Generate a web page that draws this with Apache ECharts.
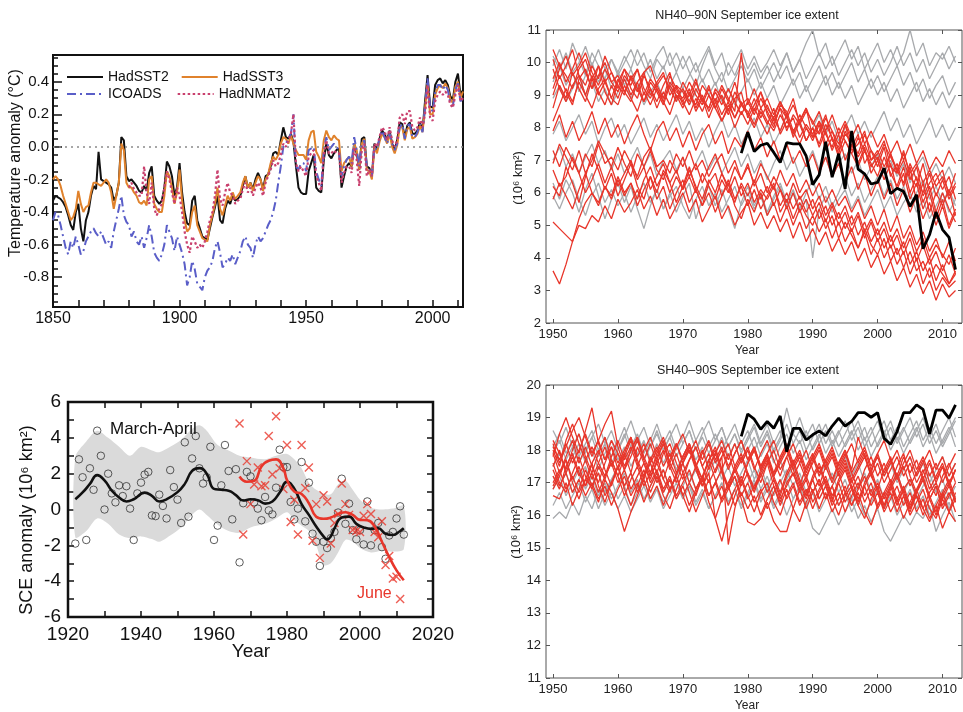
<!DOCTYPE html>
<html>
<head>
<meta charset="utf-8">
<title>SST anomalies, snow cover and September sea ice</title>
<script src="https://cdn.jsdelivr.net/npm/echarts@6/dist/echarts.min.js"></script>
<style>
  html, body { margin: 0; padding: 0; background: #fff; }
  #main { width: 963px; height: 712px; }
</style>
</head>
<body>
<div id="main"></div>
<script>
const FONT = '"Liberation Sans", Arial, Helvetica, sans-serif';

// ---- panel a : sea surface / marine air temperature anomalies (one value per year)
const sstStart = 1850;
const hadSST2 = [
  -0.33,-0.30,-0.31,-0.32,-0.34,-0.37,-0.42,-0.48,-0.51,-0.40,
  -0.35,-0.50,-0.58,-0.45,-0.40,-0.30,-0.24,-0.26,-0.03,-0.20,
  -0.21,-0.22,-0.23,-0.25,-0.33,-0.30,-0.22,0.06,0.04,-0.18,
  -0.21,-0.20,-0.22,-0.24,-0.27,-0.28,-0.24,-0.27,-0.16,-0.12,
  -0.30,-0.33,-0.35,-0.33,-0.25,-0.09,-0.12,-0.18,-0.30,-0.25,
  -0.10,-0.28,-0.40,-0.47,-0.48,-0.33,-0.30,-0.45,-0.50,-0.55,
  -0.56,-0.57,-0.50,-0.43,-0.37,-0.30,-0.45,-0.47,-0.38,-0.33,
  -0.35,-0.30,-0.33,-0.32,-0.30,-0.24,-0.18,-0.25,-0.22,-0.26,
  -0.20,-0.16,-0.20,-0.26,-0.18,-0.17,-0.12,-0.04,-0.03,-0.05,
  0.04,0.12,0.06,0.05,0.08,0.03,-0.12,-0.25,-0.28,-0.29,
  -0.29,-0.15,-0.10,-0.05,-0.25,-0.27,-0.28,-0.08,0.02,-0.05,
  -0.07,-0.04,-0.02,-0.01,-0.25,-0.18,-0.12,-0.10,-0.12,0.02,
  -0.04,-0.14,0.05,0.06,-0.12,-0.13,-0.18,0.02,-0.02,0.05,
  0.10,0.08,0.04,0.10,0.02,-0.02,0.04,0.15,0.14,0.06,
  0.13,0.15,0.08,0.08,0.10,0.15,0.10,0.28,0.44,0.25,
  0.24,0.38,0.41,0.42,0.39,0.41,0.38,0.31,0.29,0.40,
  0.45,0.32,0.35
];
const hadSST3 = [
  -0.20,-0.18,-0.20,-0.24,-0.30,-0.35,-0.40,-0.45,-0.43,-0.38,
  -0.27,-0.35,-0.40,-0.37,-0.36,-0.28,-0.22,-0.22,-0.23,-0.24,
  -0.22,-0.20,-0.22,-0.28,-0.38,-0.30,-0.22,0.02,-0.02,-0.22,
  -0.25,-0.25,-0.28,-0.30,-0.34,-0.35,-0.33,-0.36,-0.20,-0.18,
  -0.35,-0.38,-0.40,-0.40,-0.30,-0.15,-0.18,-0.25,-0.35,-0.28,
  -0.14,-0.33,-0.45,-0.52,-0.50,-0.40,-0.36,-0.48,-0.52,-0.56,
  -0.57,-0.58,-0.48,-0.42,-0.35,-0.25,-0.38,-0.42,-0.36,-0.30,
  -0.33,-0.28,-0.32,-0.30,-0.28,-0.22,-0.18,-0.25,-0.22,-0.27,
  -0.22,-0.18,-0.20,-0.27,-0.20,-0.17,-0.10,-0.06,-0.08,-0.05,
  0.02,0.06,0.05,0.02,0.07,0.02,-0.02,-0.05,-0.05,-0.05,
  -0.08,0.04,0.09,0.10,-0.03,-0.06,-0.10,0.04,0.10,0.06,
  0.04,0.07,0.05,0.04,-0.15,-0.10,-0.08,-0.06,-0.12,0.02,
  -0.02,-0.14,0.02,0.05,-0.14,-0.15,-0.20,0.00,-0.04,0.03,
  0.08,0.06,0.02,0.08,0.00,-0.04,0.01,0.12,0.12,0.04,
  0.11,0.12,0.05,0.06,0.08,0.13,0.09,0.24,0.39,0.20,
  0.20,0.32,0.36,0.38,0.36,0.39,0.36,0.29,0.27,0.37,
  0.40,0.30,0.34
];
const icoads = [
  -0.45,-0.40,-0.42,-0.48,-0.55,-0.62,-0.66,-0.58,-0.62,-0.55,
  -0.60,-0.66,-0.64,-0.58,-0.55,-0.52,-0.50,-0.53,-0.55,-0.52,
  -0.56,-0.60,-0.58,-0.62,-0.52,-0.45,-0.38,-0.30,-0.42,-0.46,
  -0.48,-0.55,-0.52,-0.58,-0.60,-0.55,-0.62,-0.56,-0.48,-0.55,
  -0.65,-0.68,-0.70,-0.66,-0.60,-0.48,-0.52,-0.56,-0.64,-0.55,
  -0.60,-0.65,-0.72,-0.85,-0.80,-0.70,-0.75,-0.84,-0.86,-0.88,
  -0.80,-0.76,-0.74,-0.70,-0.62,-0.58,-0.65,-0.74,-0.72,-0.68,
  -0.70,-0.66,-0.72,-0.68,-0.64,-0.58,-0.55,-0.60,-0.62,-0.68,
  -0.60,-0.55,-0.58,-0.56,-0.52,-0.48,-0.45,-0.40,-0.33,-0.22,
  -0.12,0.00,0.02,0.05,0.08,0.20,-0.12,-0.14,-0.10,-0.10,
  -0.15,-0.02,-0.01,0.00,-0.15,-0.20,-0.24,-0.02,0.06,-0.02,
  0.00,0.02,0.00,-0.02,-0.18,-0.12,-0.08,-0.06,-0.10,0.06,
  -0.02,-0.12,0.02,0.04,-0.12,-0.14,-0.18,0.00,-0.02,0.05,
  0.10,0.06,0.02,0.08,0.02,-0.02,0.02,0.12,0.14,0.05,
  0.13,0.14,0.06,0.06,0.09,0.14,0.09,0.24,0.42,0.24,
  0.22,0.33,0.38,0.38,0.35,0.38,0.35,0.27,0.25,0.35,
  0.39,0.28,0.30
];
const nmatStart = 1880;
const hadNMAT2 = [
  -0.25,-0.22,-0.26,-0.28,-0.30,-0.30,-0.12,-0.28,-0.35,-0.22,
  -0.38,-0.42,-0.38,-0.35,-0.25,-0.15,-0.20,-0.28,-0.35,-0.25,
  -0.30,-0.40,-0.52,-0.60,-0.65,-0.55,-0.58,-0.62,-0.60,-0.62,
  -0.58,-0.52,-0.45,-0.40,-0.30,-0.14,-0.32,-0.36,-0.28,-0.22,
  -0.28,-0.30,-0.35,-0.33,-0.32,-0.26,-0.22,-0.28,-0.25,-0.30,
  -0.25,-0.22,-0.25,-0.30,-0.22,-0.18,-0.14,-0.08,-0.12,-0.10,
  -0.05,0.02,0.00,0.04,0.08,0.20,-0.10,-0.15,-0.12,-0.15,
  -0.18,-0.06,-0.04,-0.02,-0.18,-0.22,-0.27,-0.05,0.04,-0.04,
  -0.04,-0.02,-0.04,-0.04,-0.22,-0.16,-0.12,-0.12,-0.16,0.00,
  -0.08,-0.24,-0.02,0.02,-0.18,-0.14,-0.18,0.02,0.00,0.06,
  0.12,0.10,0.04,0.12,0.04,0.00,0.04,0.18,0.20,0.14,
  0.22,0.22,0.12,0.10,0.12,0.18,0.12,0.20,0.38,0.18,
  0.16,0.28,0.32,0.34,0.32,0.34,0.32,0.26,0.24,0.32,
  0.38,0.28,0.30
];
const sstYLabels = [-0.8, -0.6, -0.4, -0.2, 0, 0.2, 0.4];

// ---- panel b : NH spring snow cover extent anomaly
const maStart = 1922;
const marchApril = [
  -1.9,2.8,1.8,-1.7,2.3,1.1,4.4,3.0,0.0,2.0,
  0.9,0.4,1.35,0.75,1.3,0.05,-1.7,0.9,1.5,1.95,
  2.1,-0.33,-0.37,0.83,0.2,-0.5,2.2,1.25,0.55,-0.75,
  3.75,-0.4,2.85,4.1,2.3,1.45,1.8,3.5,-1.7,-0.9,
  1.35,3.6,2.15,-0.55,2.25,
  -2.95,0.35,2.1,1.85,0.4,0.05,-0.6,0.7,-0.05,-0.27,
  1.22,3.34,2.37,2.37,0.42,-0.55,0.05,2.65,-0.66,1.5,
  -1.35,-1.8,-3.15,-1.8,-2.15,-1.6,-1.25,-0.17,1.72,-0.8,
  0.33,-1.15,-1.66,-1.15,-1.95,0.45,-2.0,-1.15,-0.75,-2.1,
  -2.75,-1.45,-1.25,-0.5,0.18,-1.4
];
const juneStart = 1967;
const june = [
  4.8,-1.4,2.7,0.3,1.4,2.35,1.3,1.35,4.1,1.95,
  5.2,2.3,1.15,3.6,-0.7,0.55,-1.4,3.6,1.2,2.35,
  -1.75,0.3,-2.7,0.8,0.45,-1.9,-0.75,-0.25,1.45,0.3,
  -0.3,-1.15,-1.2,-1.25,-0.35,0.3,-0.25,-1.25,-1.55,-0.65,
  -3.1,-2.6,-3.85,-3.75,-5.0
];
const maSmoothYears = [1922,1924,1926,1928,1930,1932,1934,1936,1938,1941,1943,1945,1947,1950,1952,1954,
  1956,1958,1960,1962,1964,1966,1968,1970,1972,1974,1976,1978,1980,1982,1984,1986,1988,1990,1991,
  1992,1993,1995,1997,1999,2001,2003,2005,2007,2009,2011,2012];
const maSmooth = [0.57,0.95,1.43,1.92,1.62,1.05,0.67,0.45,0.57,0.94,0.76,0.45,0.57,0.97,1.43,2.15,
  2.31,2.0,1.15,1.1,1.05,0.8,0.5,0.57,0.52,0.33,0.45,0.95,1.54,1.16,0.3,-0.3,-0.95,-1.5,-1.67,
  -1.5,-1.05,-0.45,-0.4,-0.8,-1.0,-1.08,-1.05,-1.35,-1.42,-1.2,-1.05];
const juneSmoothYears = [1967,1969,1971,1973,1975,1977,1979,1980,1982,1984,1986,1988,1990,1992,1994,
  1996,1998,2000,2002,2004,2006,2008,2010,2012];
const juneSmooth = [1.84,1.55,1.6,2.4,2.72,2.8,2.3,1.65,1.0,0.87,0.35,-0.4,-0.52,-0.45,-0.25,
  -0.15,-0.3,-0.58,-0.6,-0.95,-1.8,-2.65,-3.4,-3.95];
const bandYears = [1922,1925,1928,1931,1934,1937,1940,1943,1945,1948,1951,1954,1956,1958,1961,1964,
  1967,1970,1974,1977,1980,1982,1984,1986,1988,1990,1992,1994,1996,1998,2000,2003,2006,2009,2012];
const bandLow = [-1.55,-1.2,-0.5,-0.8,-1.4,-1.6,-1.5,-1.65,-1.8,-1.45,-1.0,-0.3,0.0,-0.3,-0.85,-1.2,
  -1.3,-1.0,-0.8,-0.5,-0.15,-0.6,-0.9,-1.2,-2.0,-3.1,-3.0,-2.4,-1.7,-1.8,-2.15,-2.4,-2.3,-2.35,-2.2];
const bandHigh = [2.9,3.8,4.4,4.0,3.5,3.0,3.5,3.3,3.2,3.5,3.9,4.5,4.7,4.4,3.6,3.3,
  3.0,2.9,2.8,3.0,3.1,2.8,2.3,1.5,1.1,0.9,0.85,1.4,1.6,1.1,0.55,0.1,0.0,0.05,0.2];

// ---- panels c, d : September sea ice extent, models (1950-2012) and observations (1979-2012)
const iceStart = 1950;
const obsStart = 1979;
const iceYearTicks = [1950, 1960, 1970, 1980, 1990, 2000, 2010];
const nhObs = [7.22,7.86,7.27,7.46,7.52,7.24,6.93,7.54,7.50,7.50,7.13,6.25,6.55,7.57,6.48,7.20,6.12,
  7.90,6.73,6.58,6.27,6.32,6.76,5.97,6.14,6.04,5.58,5.94,4.28,4.71,5.41,4.87,4.63,3.64];
const shObs = [18.42,19.11,18.95,18.64,18.88,18.67,19.05,17.95,18.67,18.67,18.31,18.47,18.59,18.44,
  18.74,18.98,18.74,18.88,19.15,19.15,19.01,19.15,18.36,18.18,18.57,19.15,19.15,19.39,19.25,18.5,
  19.23,19.23,18.98,19.39];

const nhGray = [
  [10.2,9.8,10.3,9.7,10.0,10.5,9.9,10.4,9.8,10.1,9.6,10.0,10.4,9.9,10.3,9.7,10.2,10.5,9.9,10.3,
   9.8,10.2,9.7,10.1,10.5,9.9,10.3,9.6,10.0,10.4,9.8,10.2,9.7,10.0,10.4,9.9,10.3,9.7,10.1,10.6,
   11.0,10.2,10.6,9.9,10.3,10.7,10.1,10.5,9.8,10.2,10.6,10.0,10.4,9.9,10.3,11.0,10.2,10.6,9.9,10.3,
   10.1,10.5,10.0],
  [9.4,9.9,9.3,9.7,9.1,9.6,10.0,9.4,9.8,9.2,9.7,9.3,9.8,9.2,9.6,10.1,9.5,9.9,9.3,9.7,
   9.2,9.6,10.0,9.4,9.8,9.3,9.7,9.1,9.5,9.9,9.4,9.8,9.2,9.6,10.0,9.5,9.9,9.3,9.7,9.1,
   9.5,9.9,9.3,9.7,9.2,9.6,10.0,9.4,9.8,9.2,9.6,9.1,9.5,9.9,9.3,9.7,9.1,9.5,8.9,9.3,
   9.6,9.0,9.4],
  [8.9,9.3,8.8,9.2,9.6,9.0,9.4,8.8,9.2,8.7,9.1,9.5,8.9,9.3,8.7,9.1,9.4,8.9,9.3,8.8,
   9.2,8.7,9.1,9.5,9.0,9.4,8.8,9.2,8.7,9.1,9.5,9.0,9.4,8.9,9.3,8.7,9.1,9.5,8.9,9.3,
   8.8,9.2,9.6,9.0,9.4,8.9,9.3,8.7,9.1,9.5,9.0,9.4,8.8,9.2,8.6,9.0,9.4,8.8,9.2,8.7,
   9.1,8.6,9.0],
  [7.0,7.4,6.8,7.2,6.6,7.1,7.5,6.9,7.3,6.7,7.2,6.6,7.0,7.4,6.8,7.2,6.5,7.0,7.3,6.7,
   7.1,6.5,6.9,7.3,6.7,7.1,6.6,7.0,7.4,6.8,7.2,6.6,7.0,6.4,6.9,7.3,6.7,7.1,6.5,6.9,
   7.3,6.7,7.1,6.5,6.9,7.2,6.6,7.0,6.4,6.8,7.2,6.6,7.0,6.5,6.9,6.3,6.8,7.1,6.5,6.9,
   6.4,6.8,6.3],
  [5.9,5.5,6.0,6.4,5.8,5.3,5.9,6.3,5.7,6.1,5.6,6.0,5.4,5.9,6.3,5.7,6.1,5.5,5.9,6.2,
   5.6,5.2,5.8,6.2,5.6,6.0,5.4,5.8,6.2,5.6,6.0,5.5,5.9,5.3,5.8,6.2,5.6,6.0,5.4,5.8,
   4.0,5.5,5.9,5.4,5.8,6.1,5.5,5.9,5.3,5.7,6.1,5.5,5.9,5.3,5.7,6.0,5.4,5.8,5.2,5.6,
   6.0,5.4,5.8],
  [7.8,8.2,7.6,8.0,8.4,7.8,8.2,7.5,8.0,8.3,7.7,8.1,7.5,7.9,8.3,7.7,8.1,7.6,8.0,8.4,
   7.8,8.2,7.6,8.0,7.4,7.9,8.3,7.7,8.1,7.5,7.9,8.3,7.7,8.1,7.5,7.9,8.4,7.8,8.2,7.6,
   8.0,8.4,7.8,8.2,7.6,8.0,8.4,7.8,8.2,7.7,8.1,8.5,7.9,8.3,7.7,8.1,7.5,7.9,8.3,7.7,
   8.1,7.6,8.0],
  [6.3,5.8,6.4,6.0,5.4,6.1,6.6,5.9,5.2,5.8,6.3,5.7,6.2,5.5,4.9,5.6,6.1,5.5,6.0,5.4,
   5.9,6.3,5.2,5.8,6.2,5.6,6.1,5.5,4.9,5.7,6.2,5.6,6.0,5.4,5.9,6.3,5.7,6.1,5.5,6.0,
   6.4,5.8,6.2,5.6,6.0,6.5,5.9,6.3,5.7,6.1,6.5,5.9,6.4,5.8,6.2,5.6,6.0,6.4,5.8,6.2,
   5.7,6.1,5.6],
  [9.9,10.4,9.8,10.6,10.1,9.6,10.3,9.9,9.5,10.1,9.7,10.2,9.8,10.4,9.9,9.5,10.1,9.8,10.3,9.7,
   10.2,9.7,9.3,9.9,10.4,9.8,9.4,10.0,9.6,10.1,9.6,10.0,9.5,9.9,9.4,9.8,10.3,9.7,10.1,9.5,
   9.9,10.3,9.8,10.2,9.6,10.0,10.4,9.9,10.3,9.7,10.1,9.6,10.0,10.5,9.9,10.3,9.7,10.1,9.5,9.9,
   10.3,9.8,10.2]
];
const nhRed = [
  [10.4,9.9,9.6,9.2,9.8,10.1,9.5,9.0,9.4,9.7,9.3,9.0,9.6,9.2,8.8,9.4,9.1,8.7,9.3,9.0,
   8.8,9.2,8.6,9.0,8.5,8.9,8.4,8.8,8.3,8.7,8.5,8.1,8.6,8.2,7.9,8.4,8.0,8.3,7.7,8.1,
   7.8,8.2,7.5,7.9,7.3,7.8,7.6,7.1,7.5,7.0,7.3,6.8,7.2,6.6,7.0,6.4,6.8,5.9,6.3,6.6,
   6.1,6.5,5.8],
  [9.2,9.8,10.2,9.6,9.9,10.3,9.7,9.3,9.8,9.4,9.6,9.1,9.5,9.8,9.2,8.9,9.4,9.7,9.0,9.3,
   9.1,8.7,9.2,8.8,9.3,8.6,9.0,8.5,9.1,8.7,8.4,8.9,8.3,8.7,8.2,8.6,7.9,8.4,8.1,7.6,
   8.0,7.5,8.1,7.7,7.2,7.9,7.4,7.8,6.9,7.3,6.8,7.4,6.5,6.9,6.2,6.8,5.7,6.3,5.4,6.0,
   5.6,6.1,5.3],
  [8.6,9.3,8.9,9.7,9.2,8.8,9.5,9.9,9.1,8.7,9.4,9.8,9.2,8.9,9.6,9.2,8.8,9.3,9.7,8.9,
   9.2,8.8,9.4,8.9,8.6,9.1,8.7,9.2,8.8,8.4,8.8,8.4,8.9,8.5,8.1,8.6,8.3,7.8,8.4,8.0,
   7.7,8.2,7.8,7.4,8.0,7.6,7.2,7.7,7.3,6.8,7.1,6.6,7.2,6.7,6.3,6.9,6.4,6.0,6.6,5.9,
   6.4,5.8,6.2],
  [9.8,9.2,8.8,9.3,9.6,9.0,8.6,9.2,9.5,8.9,8.7,9.3,8.9,8.5,9.1,8.7,9.2,8.8,8.4,9.0,
   8.6,9.1,8.5,8.9,8.3,8.8,8.2,8.6,8.0,8.5,8.1,8.6,8.2,7.8,8.3,7.9,8.4,7.7,8.2,7.6,
   8.0,7.4,7.9,7.3,7.8,7.0,7.5,6.9,7.4,6.6,7.0,6.4,6.9,6.1,6.6,5.8,6.3,5.5,6.0,5.2,
   5.8,5.0,5.5],
  [8.2,8.7,9.2,8.8,9.4,9.0,9.6,9.1,8.7,9.3,8.9,9.5,9.0,9.4,8.8,9.2,8.6,9.1,8.7,9.3,
   8.8,8.4,8.9,8.5,9.0,8.6,8.2,8.7,8.3,8.8,8.4,8.0,8.5,8.1,8.6,7.8,8.2,7.9,7.5,8.0,
   7.6,8.1,7.3,7.7,7.1,7.6,7.2,6.8,7.3,6.9,6.5,7.1,6.6,6.2,6.8,6.0,6.5,5.7,6.2,5.4,
   6.0,5.5,5.1],
  [9.5,10.0,9.4,9.8,10.3,9.7,9.2,9.6,10.0,9.4,9.1,9.6,9.3,9.8,9.0,9.5,9.2,8.8,9.4,9.1,
   8.9,9.4,9.0,8.7,9.2,8.8,9.3,8.9,8.5,10.3,8.7,9.2,8.6,8.9,8.4,8.8,8.3,8.7,8.2,8.6,
   8.1,8.5,7.9,8.4,7.8,8.2,7.7,8.1,7.5,7.9,7.4,7.8,7.2,7.6,7.0,7.5,6.9,7.3,6.7,7.1,
   6.8,7.3,6.9],
  [6.7,6.2,6.5,7.1,6.6,6.0,6.4,6.9,6.3,6.8,6.2,6.6,7.0,6.4,6.8,6.1,6.5,6.9,6.3,6.7,
   6.1,6.5,6.0,6.6,6.2,5.8,6.4,6.0,6.5,5.9,6.3,5.7,6.1,5.8,6.2,5.6,6.0,5.5,5.9,5.4,
   5.8,5.2,5.6,5.0,5.4,4.9,5.3,4.7,5.1,4.5,4.9,4.3,4.7,4.1,4.5,3.8,4.2,3.6,4.0,3.3,
   3.8,3.2,3.5],
  [5.8,6.3,5.9,5.5,6.1,6.6,6.0,5.7,6.2,5.8,6.4,5.9,6.3,5.6,6.1,6.5,5.8,6.2,5.5,6.0,
   6.4,5.7,6.1,5.6,6.0,5.4,5.9,6.3,5.6,5.2,5.8,5.4,6.0,5.3,5.7,5.1,5.6,5.0,5.5,4.9,
   5.3,4.8,5.2,4.6,5.1,4.5,4.9,4.3,4.8,4.1,4.6,4.0,4.4,3.8,4.2,3.5,4.0,3.2,3.7,3.0,
   3.4,3.1,3.3],
  [7.3,6.8,7.4,7.0,6.6,7.2,6.8,7.5,6.9,7.1,6.7,7.3,6.9,6.5,7.1,7.4,6.8,7.0,6.6,7.2,
   6.8,7.3,6.7,7.0,6.5,6.9,7.2,6.6,7.0,6.4,6.8,6.3,6.9,6.5,6.1,6.7,6.2,6.6,6.0,6.4,
   5.9,6.3,5.7,6.1,5.6,5.9,5.4,5.8,5.2,5.6,5.0,5.5,4.8,5.3,4.6,5.0,4.4,4.8,4.2,4.6,
   4.0,4.5,3.9],
  [3.6,3.2,3.8,4.5,5.0,4.9,5.3,5.1,5.6,5.2,5.8,5.4,5.7,6.1,5.5,5.9,5.3,5.8,5.2,5.6,
   6.0,5.4,5.8,5.1,5.5,5.9,5.2,5.6,5.0,5.4,5.7,5.0,5.4,4.9,5.3,4.8,5.2,4.6,5.1,4.5,
   4.9,4.4,4.8,4.2,4.6,4.1,4.5,3.9,4.3,3.7,4.1,3.5,3.9,3.3,3.7,3.1,3.5,2.9,3.3,2.7,
   3.2,2.8,3.0],
  [5.1,4.9,4.7,4.5,5.2,5.7,6.0,5.6,6.2,5.9,6.5,6.0,6.3,5.8,6.4,6.8,6.2,6.6,6.0,6.5,
   6.1,6.7,6.2,5.8,6.4,6.0,6.6,6.1,5.7,6.3,5.9,6.4,5.8,6.2,5.6,6.1,5.5,6.0,5.4,5.8,
   5.3,5.7,5.1,5.6,5.0,5.4,4.8,5.3,4.6,5.1,4.5,4.9,4.3,4.7,4.1,4.6,3.9,4.4,3.8,4.2,
   3.6,4.1,3.5],
  [7.9,8.4,7.7,8.2,7.6,8.0,8.5,7.8,8.3,7.7,8.1,7.5,8.0,8.4,7.8,7.3,7.9,8.2,7.6,8.0,
   7.4,7.9,7.3,7.8,8.1,7.5,7.9,7.2,7.7,7.4,7.9,7.3,7.7,7.1,7.6,7.0,7.5,6.9,7.3,6.8,
   7.2,6.6,7.1,6.5,6.9,6.3,6.8,6.1,6.6,5.9,6.4,5.8,6.3,5.6,6.1,5.4,5.9,5.2,5.7,5.0,
   5.6,4.9,5.4],
  [9.0,9.6,9.1,8.7,9.5,9.8,9.2,9.9,9.4,8.9,9.5,9.1,8.8,9.4,9.7,9.0,9.3,8.9,9.6,9.2,
   8.7,9.0,9.5,8.8,8.6,9.2,8.9,8.4,8.9,9.1,8.3,8.7,9.1,8.4,8.0,8.7,8.5,7.9,8.2,8.6,
   7.7,7.9,8.4,7.6,7.4,8.1,7.3,7.5,7.9,7.0,7.2,7.6,6.8,6.6,7.3,6.5,6.2,6.9,6.0,6.4,
   6.7,5.9,6.3],
  [10.1,9.5,9.9,10.4,9.6,9.3,9.9,9.5,10.2,9.7,9.2,9.8,9.5,9.1,9.7,9.9,9.3,9.6,9.2,8.8,
   9.4,9.0,8.7,9.3,9.0,8.6,9.2,8.8,9.4,8.7,8.9,8.5,9.1,8.6,8.3,8.8,8.4,8.9,8.1,8.5,
   8.2,7.8,8.3,7.9,7.5,8.1,7.6,7.2,7.8,7.3,7.0,7.5,7.1,6.7,7.2,6.6,6.9,6.3,6.7,6.2,
   6.5,6.0,6.6],
  [6.2,5.9,6.8,6.3,5.7,6.5,7.2,6.7,6.1,6.6,5.9,6.4,6.9,6.2,5.8,6.5,6.0,6.7,6.3,5.7,
   6.2,6.8,6.1,5.6,6.3,6.6,5.9,6.4,5.8,6.2,5.6,6.1,5.5,5.9,6.3,5.4,5.8,5.2,5.7,5.3,
   5.0,5.5,4.9,5.3,4.6,5.1,4.7,4.3,4.9,4.4,4.1,4.6,3.9,4.3,3.7,4.2,3.6,3.9,3.4,3.8,
   3.5,3.2,3.6],
  [6.9,7.5,7.1,6.7,7.3,6.6,7.0,7.6,7.2,6.8,7.4,6.9,6.5,7.2,6.8,7.3,6.7,6.4,7.0,6.6,
   7.1,6.5,6.9,6.3,6.8,7.2,6.6,6.2,6.8,6.4,6.9,6.2,6.6,6.0,6.5,6.1,5.7,6.3,5.8,6.1,
   5.5,5.9,5.3,5.7,5.2,5.6,5.0,5.4,4.8,5.2,4.7,5.1,4.5,4.9,4.3,4.8,4.2,4.6,4.0,4.4,
   4.1,3.8,4.3]
];

const shGray = [
  [15.9,16.1,15.9,16.4,16.0,16.6,16.2,16.8,16.3,16.7,16.2,16.6,16.1,16.5,16.9,16.4,16.8,16.2,16.6,17.0,
   16.5,16.9,16.3,16.7,16.2,16.6,17.0,16.4,16.8,16.2,16.6,17.0,16.4,16.8,16.2,16.6,16.0,16.5,16.9,16.3,
   15.6,15.4,15.8,16.2,15.7,16.1,16.5,15.9,16.3,15.8,16.2,15.5,15.2,15.6,16.0,15.7,16.1,15.9,16.3,15.5,
   16.0,16.4,15.8],
  [18.1,18.5,17.9,18.3,17.8,18.2,18.6,18.0,18.4,17.8,18.2,18.7,18.1,18.5,17.9,18.3,18.8,18.2,18.6,18.0,
   18.4,18.9,18.3,18.7,18.1,18.5,18.0,18.4,18.8,18.2,18.6,18.0,18.4,18.8,18.2,18.6,18.1,18.5,19.0,18.4,
   18.8,18.2,18.6,18.1,18.5,18.9,18.3,18.7,18.1,18.5,18.9,18.3,18.7,18.2,18.6,19.0,18.4,18.8,18.2,18.6,
   18.1,18.5,18.9],
  [17.5,17.9,17.3,17.8,18.2,17.6,18.0,17.4,17.9,18.3,17.7,18.1,17.5,17.9,18.3,17.7,18.2,17.6,18.0,17.4,
   17.8,18.2,17.7,18.1,17.5,17.9,18.4,17.8,18.2,17.6,18.0,18.4,17.8,18.2,17.6,18.1,18.5,17.9,18.3,17.7,
   18.1,18.5,17.9,18.3,17.8,18.2,18.6,18.0,18.4,17.8,18.2,18.6,18.0,18.4,17.9,18.3,18.7,18.1,18.5,17.9,
   18.3,18.7,18.1],
  [16.8,17.2,16.6,17.0,17.4,16.8,17.2,16.6,17.0,16.5,16.9,17.3,16.7,17.1,16.5,16.9,17.3,16.7,17.1,16.5,
   16.9,17.3,16.8,17.2,16.6,17.0,17.4,16.8,17.2,16.6,17.0,17.4,16.8,17.2,16.6,17.0,17.4,16.9,17.3,16.7,
   17.1,16.5,16.9,17.3,16.7,17.1,16.5,16.9,17.3,16.7,17.1,16.5,16.9,17.3,16.7,17.1,16.5,16.9,17.3,16.7,
   17.1,16.5,16.9],
  [18.6,18.2,18.7,18.1,18.5,17.9,18.4,18.8,18.2,18.6,18.0,18.4,18.9,18.3,18.7,18.1,18.5,18.0,18.4,18.8,
   18.2,18.6,18.0,18.5,18.9,18.3,18.7,18.1,18.5,18.0,18.4,18.8,18.2,18.6,18.0,18.4,19.3,18.5,18.2,18.6,
   18.0,18.4,18.8,18.2,18.6,18.1,18.5,18.9,18.3,18.7,18.1,18.5,18.9,18.3,18.7,18.2,18.6,19.0,18.4,18.8,
   18.2,18.6,19.0],
  [16.3,16.7,16.2,16.6,17.0,16.4,16.8,16.2,16.7,17.1,16.5,16.9,16.3,16.7,17.1,16.5,16.9,16.4,16.8,17.2,
   16.6,17.0,16.4,16.8,16.2,16.6,17.0,16.4,16.8,16.3,16.7,17.1,16.5,16.9,16.3,16.7,17.1,16.5,16.9,16.3,
   16.7,16.1,16.5,16.9,16.3,16.7,16.1,16.5,16.0,16.4,16.8,16.2,16.6,16.0,16.4,16.8,16.2,16.6,16.0,16.4,
   16.8,16.2,16.6],
  [17.9,18.3,17.7,18.1,17.6,18.0,18.4,17.8,18.2,17.6,18.0,18.5,17.9,18.3,17.7,18.1,18.6,18.0,18.4,17.8,
   18.2,18.6,18.0,18.4,17.9,18.3,18.7,18.1,18.5,17.9,18.3,18.7,18.1,18.5,17.9,18.3,18.8,18.2,18.6,18.0,
   18.4,18.8,18.2,18.6,18.1,18.5,18.9,18.3,18.7,18.1,18.5,18.9,18.3,18.7,18.1,18.5,18.9,18.3,18.7,18.2,
   18.6,19.0,18.4],
  [17.2,16.9,17.3,16.7,17.1,17.5,16.9,17.3,16.7,17.1,17.5,16.9,17.3,16.8,17.2,17.6,17.0,17.4,16.8,17.2,
   17.6,17.0,17.4,16.9,17.3,17.7,17.1,17.5,16.9,17.3,17.7,17.1,17.5,16.9,17.3,17.7,17.1,17.5,17.0,17.4,
   17.8,17.2,17.6,17.0,17.4,17.8,17.2,17.6,17.0,17.4,17.8,17.2,17.6,17.0,17.4,17.8,17.2,17.6,17.0,17.4,
   17.8,17.2,17.6]
];
const shRed = [
  [17.8,18.5,19.0,18.4,17.9,18.6,19.3,18.2,17.7,18.3,17.9,17.4,18.0,18.4,17.8,17.3,17.9,18.3,17.6,17.2,
   17.8,18.2,17.5,17.1,17.7,18.1,17.4,16.9,17.5,17.9,17.3,16.8,17.4,17.8,17.2,16.7,17.3,17.7,17.1,16.6,
   17.2,17.6,17.0,16.5,17.1,17.5,16.9,16.4,17.0,17.4,16.8,16.3,16.9,17.3,16.7,16.2,16.8,17.2,16.6,16.1,
   16.7,17.1,16.5],
  [17.2,16.8,17.5,17.9,17.3,16.9,17.6,18.0,17.4,16.9,17.5,17.9,17.3,18.1,17.6,17.1,17.7,18.2,17.5,17.0,
   17.6,18.0,17.4,16.9,17.5,17.9,17.3,16.8,17.4,17.8,17.2,16.7,17.3,17.7,17.1,16.6,17.2,17.6,17.0,16.5,
   17.1,17.5,16.9,16.4,17.0,17.4,16.8,16.3,16.9,17.3,16.7,16.2,16.8,17.2,16.6,16.1,16.7,17.1,16.5,16.0,
   16.6,17.0,16.4],
  [16.6,16.5,17.0,16.3,16.8,17.4,16.9,16.4,17.1,16.7,16.2,15.5,16.1,16.6,17.1,16.5,16.9,16.3,16.8,17.2,
   16.6,16.1,16.7,17.1,16.4,15.9,16.5,16.9,16.3,16.7,16.2,16.6,16.0,16.5,16.9,16.3,16.8,16.2,15.8,16.4,
   16.8,16.2,16.7,16.1,16.5,16.9,16.3,16.7,16.1,15.7,16.3,16.7,16.1,16.5,15.9,16.4,16.8,16.2,15.8,16.3,
   15.6,16.1,15.8],
  [18.2,17.6,18.1,18.6,19.0,18.4,17.8,18.3,18.8,19.2,18.1,17.5,18.0,18.4,17.7,18.2,17.6,17.1,17.7,18.2,
   17.6,18.1,17.5,18.0,17.4,17.9,18.3,17.7,18.2,17.6,18.0,17.4,17.9,18.3,17.7,17.2,17.8,18.2,17.6,17.1,
   17.7,18.1,17.5,17.0,17.6,18.0,17.4,18.4,17.8,17.3,17.9,18.3,17.7,17.2,17.8,17.3,17.7,17.1,17.6,17.0,
   17.5,16.9,17.4],
  [17.0,17.4,16.8,17.2,16.7,17.1,16.9,17.3,16.6,17.0,17.5,16.9,17.3,16.7,17.2,17.6,17.0,17.4,16.8,17.2,
   16.6,17.0,17.5,16.9,17.3,15.9,15.2,16.0,16.6,17.1,16.5,16.9,17.3,16.7,17.1,16.5,16.9,17.3,16.7,17.1,
   16.4,16.8,17.2,16.6,17.0,16.4,16.8,17.2,16.6,17.0,16.3,16.7,17.1,16.5,16.9,16.3,16.7,17.1,16.5,16.9,
   16.2,16.6,17.0],
  [17.5,18.0,17.3,17.8,17.2,17.7,17.1,17.6,18.1,17.5,17.9,17.4,17.8,18.3,17.7,17.2,17.6,18.0,17.4,17.9,
   17.3,17.7,18.1,17.5,17.0,17.4,17.8,15.1,16.2,17.0,17.6,18.0,17.4,17.8,17.2,17.6,18.0,17.4,17.8,17.2,
   17.6,18.0,17.4,17.8,17.2,17.6,17.0,17.4,17.8,17.2,17.6,17.0,17.4,17.8,17.2,17.6,17.0,17.4,16.8,17.2,
   17.6,17.0,17.4],
  [16.9,17.3,17.7,17.1,17.5,16.9,17.3,16.7,17.2,17.6,17.0,17.4,16.8,17.2,17.6,17.0,17.4,16.8,17.2,16.6,
   17.0,17.4,16.8,17.2,16.6,17.0,17.4,16.8,17.2,16.5,15.8,15.7,15.9,16.4,15.8,15.5,15.5,16.2,16.8,16.2,
   16.7,17.1,16.5,16.9,16.3,16.7,17.1,16.5,16.9,16.3,16.7,16.1,16.5,16.9,16.3,16.7,16.1,16.5,15.9,16.3,
   16.7,16.1,16.5],
  [18.0,17.5,18.3,18.8,18.2,17.7,18.1,17.6,17.2,17.8,18.3,17.7,18.1,17.5,18.0,18.4,17.8,18.2,17.6,18.1,
   18.5,17.9,18.3,17.7,18.2,17.6,18.0,17.4,17.9,18.3,17.7,18.1,17.5,17.9,18.3,17.7,18.1,17.5,17.9,17.3,
   17.8,18.2,17.6,18.0,17.4,17.8,18.2,17.6,18.0,17.4,17.8,17.2,17.6,18.0,17.4,17.8,17.2,17.6,18.0,17.4,
   17.8,17.2,17.6],
  [17.4,16.9,17.3,16.7,17.1,16.6,17.0,16.5,16.9,16.3,16.8,17.2,16.6,17.0,16.4,16.9,17.3,16.7,17.1,16.5,
   16.9,16.3,16.8,17.2,16.6,17.0,16.4,16.8,17.2,16.6,17.0,16.4,16.8,16.2,16.7,17.1,16.5,16.9,16.3,16.7,
   17.1,16.5,16.9,16.3,16.7,16.1,16.6,17.0,16.4,16.8,16.2,16.6,17.0,16.4,16.8,16.2,16.6,16.0,16.5,16.9,
   16.3,16.7,16.1],
  [18.1,17.7,18.2,17.6,18.0,18.5,17.9,18.3,17.7,18.1,17.6,18.0,18.4,17.8,18.2,17.6,18.0,18.4,17.8,18.2,
   17.7,18.1,17.5,17.9,18.3,17.7,18.1,17.5,17.9,18.3,17.7,18.1,17.5,17.9,17.3,17.8,18.2,17.6,18.0,17.4,
   17.8,17.2,17.7,18.1,17.5,17.9,17.3,17.7,18.1,17.5,17.9,17.3,17.7,17.1,17.6,18.0,17.4,17.8,17.2,17.6,
   17.0,17.5,17.9],
  [17.6,17.0,16.7,17.3,17.8,17.2,16.8,17.5,17.1,17.7,17.2,16.6,17.1,17.5,16.9,17.3,17.8,17.1,16.7,17.3,
   17.6,17.0,16.6,17.2,17.7,17.1,16.5,17.0,17.4,16.9,17.3,16.8,17.2,17.6,16.9,16.4,17.0,17.3,16.8,17.2,
   16.7,17.1,16.5,16.9,17.3,16.7,16.3,16.8,17.2,16.6,17.0,16.5,16.9,16.3,16.8,17.1,16.6,16.2,16.7,17.0,
   16.5,16.9,16.4],
  [18.3,17.9,17.4,18.0,18.5,17.8,17.3,17.9,18.4,17.7,17.2,17.8,18.3,17.6,17.1,17.7,18.1,17.5,17.9,17.3,
   17.8,18.2,17.6,17.1,17.7,18.0,17.4,17.9,17.3,17.7,18.1,17.5,17.0,17.6,18.0,17.4,17.8,17.2,17.6,18.0,
   17.4,16.9,17.5,17.9,17.3,17.7,17.1,17.5,17.9,17.2,16.8,17.4,17.8,17.1,17.5,16.9,17.3,17.7,17.0,16.6,
   17.2,17.6,17.0],
  [16.8,17.2,17.7,17.0,16.5,17.1,17.6,16.9,16.4,17.0,17.5,16.8,16.3,16.9,17.4,16.7,17.2,16.6,16.2,16.8,
   17.3,16.7,16.1,16.6,17.1,16.5,16.9,16.3,16.8,17.2,16.6,16.1,16.7,17.0,16.4,16.0,16.6,17.0,16.4,16.8,
   16.2,16.7,17.1,16.5,16.0,16.6,16.9,16.3,15.9,16.5,16.9,16.3,16.7,16.1,16.6,16.0,16.4,16.8,16.2,15.9,
   16.5,16.1,16.7],
  [17.9,17.3,17.8,18.3,17.6,18.1,17.5,17.0,17.6,18.1,17.4,17.9,18.4,17.7,17.2,17.8,17.3,17.9,18.2,17.6,
   17.1,17.7,18.1,17.5,17.9,17.3,17.8,18.2,17.5,17.0,17.6,18.0,17.4,17.8,17.2,17.7,18.1,17.4,16.9,17.5,
   17.9,17.3,17.7,17.1,17.6,18.0,17.3,16.8,17.4,17.8,17.2,17.6,17.0,17.5,17.9,17.2,16.7,17.3,17.7,17.1,
   17.5,16.9,17.4]
];

// helpers
function byYear(start, vals) {
    return vals.map((v, i) => [start + i, v]);
}
function zipXY(xs, ys) {
    return xs.map((x, i) => [x, ys[i]]);
}

const sstMinorTicks = [];
for (let k = -19; k <= 11; k++) sstMinorTicks.push(+(k * 0.05).toFixed(2));

const RED = '#e8362b';
const GRAY = '#a8aaad';

function txt(size, color) {
    return { fontFamily: FONT, fontSize: size, color: color || '#111' };
}

// a plain tick-only axis (mirrored sides)
function tickOnly(base) {
    return Object.assign({
        type: 'value',
        axisLine: { show: false, onZero: false },
        axisLabel: { show: false },
        splitLine: { show: false }
    }, base);
}

const myChart = echarts.init(document.getElementById('main'), null, { renderer: 'canvas' });

const yearFmt = v => String(v);

const xAxes = [
    // a
    {
        gridIndex: 0, type: 'value', min: 1850, max: 2012, interval: 10,
        axisLine: { show: false, onZero: false }, splitLine: { show: false },
        axisTick: { inside: true, length: 7, lineStyle: { color: '#111', width: 1.5 } },
        axisLabel: Object.assign(txt(16), { margin: 4, formatter: v => (v % 50 === 0 ? String(v) : '') })
    },
    // b bottom / top
    {
        gridIndex: 1, type: 'value', min: 1920, max: 2020, interval: 10,
        axisLine: { show: false, onZero: false }, splitLine: { show: false },
        axisTick: { inside: true, length: 6, lineStyle: { color: '#111', width: 1.5 } },
        axisLabel: Object.assign(txt(19), { margin: 8, formatter: v => (v % 20 === 0 ? String(v) : '') })
    },
    tickOnly({ gridIndex: 1, position: 'top', min: 1920, max: 2020, interval: 10,
        axisTick: { inside: true, length: 6, lineStyle: { color: '#111', width: 1.5 } } }),
    // c bottom / top
    {
        gridIndex: 2, type: 'value', min: 1948.92, max: 2013,
        axisLine: { show: false, onZero: false }, splitLine: { show: false },
        axisTick: { inside: true, length: 4, customValues: iceYearTicks, lineStyle: { color: '#555' } },
        axisLabel: Object.assign(txt(13, '#222'), { margin: 5, customValues: iceYearTicks, formatter: yearFmt })
    },
    tickOnly({ gridIndex: 2, position: 'top', min: 1948.92, max: 2013,
        axisTick: { inside: true, length: 4, customValues: iceYearTicks, lineStyle: { color: '#555' } } }),
    // d bottom / top
    {
        gridIndex: 3, type: 'value', min: 1948.92, max: 2013,
        axisLine: { show: false, onZero: false }, splitLine: { show: false },
        axisTick: { inside: true, length: 4, customValues: iceYearTicks, lineStyle: { color: '#555' } },
        axisLabel: Object.assign(txt(13, '#222'), { margin: 5, customValues: iceYearTicks, formatter: yearFmt })
    },
    tickOnly({ gridIndex: 3, position: 'top', min: 1948.92, max: 2013,
        axisTick: { inside: true, length: 4, customValues: iceYearTicks, lineStyle: { color: '#555' } } })
];

const yAxes = [
    // a: labels + minor ticks, then major ticks
    {
        gridIndex: 0, type: 'value', position: 'left', min: -0.983, max: 0.564,
        axisLine: { show: false, onZero: false }, splitLine: { show: false },
        axisTick: { inside: true, length: 5, customValues: sstMinorTicks, lineStyle: { color: '#111', width: 1.5 } },
        axisLabel: Object.assign(txt(15), { margin: 4, customValues: sstYLabels, formatter: v => v.toFixed(1) })
    },
    tickOnly({ gridIndex: 0, position: 'left', min: -0.983, max: 0.564,
        axisTick: { inside: true, length: 9, customValues: sstYLabels, lineStyle: { color: '#111', width: 1.5 } } }),
    // b left / right
    {
        gridIndex: 1, type: 'value', position: 'left', min: -6, max: 6, interval: 1,
        axisLine: { show: false, onZero: false }, splitLine: { show: false },
        axisTick: { inside: true, length: 6, lineStyle: { color: '#111', width: 1.5 } },
        axisLabel: Object.assign(txt(19), { margin: 7, formatter: v => (v % 2 === 0 ? String(v) : '') })
    },
    tickOnly({ gridIndex: 1, position: 'right', min: -6, max: 6, interval: 1,
        axisTick: { inside: true, length: 6, lineStyle: { color: '#111', width: 1.5 } } }),
    // c left / right
    {
        gridIndex: 2, type: 'value', position: 'left', min: 2, max: 11, interval: 1,
        axisLine: { show: false, onZero: false }, splitLine: { show: false },
        axisTick: { inside: true, length: 4, lineStyle: { color: '#555' } },
        axisLabel: Object.assign(txt(13, '#222'), { margin: 5 })
    },
    tickOnly({ gridIndex: 2, position: 'right', min: 2, max: 11, interval: 1,
        axisTick: { inside: true, length: 4, lineStyle: { color: '#555' } } }),
    // d left / right
    {
        gridIndex: 3, type: 'value', position: 'left', min: 11, max: 20, interval: 1,
        axisLine: { show: false, onZero: false }, splitLine: { show: false },
        axisTick: { inside: true, length: 4, lineStyle: { color: '#555' } },
        axisLabel: Object.assign(txt(13, '#222'), { margin: 5 })
    },
    tickOnly({ gridIndex: 3, position: 'right', min: 11, max: 20, interval: 1,
        axisTick: { inside: true, length: 4, lineStyle: { color: '#555' } } })
];

function sstLine(name, start, vals, style) {
    return {
        name: name, type: 'line', xAxisIndex: 0, yAxisIndex: 0,
        data: byYear(start, vals), symbol: 'none', lineStyle: style,
        itemStyle: { color: style.color }
    };
}

function iceLines(arrs, color, width, xi, yi) {
    return arrs.map(a => ({
        type: 'line', xAxisIndex: xi, yAxisIndex: yi, data: byYear(iceStart, a),
        symbol: 'none', silent: true, lineStyle: { color: color, width: width }
    }));
}

const seriesA = [
    Object.assign(sstLine('HadSST2', sstStart, hadSST2, { color: '#111', width: 2 }), {
        markLine: {
            silent: true, symbol: 'none', label: { show: false },
            lineStyle: { color: '#8a8a8a', type: [2, 4], width: 1.6 },
            data: [{ yAxis: 0 }]
        }
    }),
    sstLine('HadSST3', sstStart, hadSST3, { color: '#e0822c', width: 2 }),
    sstLine('ICOADS', sstStart, icoads, { color: '#5a5ec8', width: 2, type: [9, 4, 2, 4] }),
    sstLine('HadNMAT2', nmatStart, hadNMAT2, { color: '#c9406e', width: 2.2, type: [2.5, 2.5] })
];

// uncertainty band: one polygon made of the upper edge and the reversed lower edge
const bandSeries = {
    type: 'custom', xAxisIndex: 1, yAxisIndex: 2, silent: true, z: 1,
    data: bandYears.map((y, i) => [y, bandLow[i], bandHigh[i]]),
    renderItem: function (params, api) {
        if (params.dataIndex !== 0) return null;
        const upper = bandYears.map((y, i) => api.coord([y, bandHigh[i]]));
        const lower = bandYears.map((y, i) => api.coord([y, bandLow[i]])).reverse();
        return {
            type: 'polygon',
            shape: { points: upper.concat(lower), smooth: 0.3 },
            style: { fill: '#dadada' }
        };
    }
};

const seriesB = [
    bandSeries,
    {
        type: 'scatter', xAxisIndex: 1, yAxisIndex: 2, data: byYear(maStart, marchApril),
        symbol: 'circle', symbolSize: 7.5, z: 3,
        itemStyle: { color: 'rgba(0,0,0,0)', borderColor: '#333', borderWidth: 1 }
    },
    {
        type: 'scatter', xAxisIndex: 1, yAxisIndex: 2, data: byYear(juneStart, june),
        symbol: 'path://M0,0L10,10M10,0L0,10', symbolSize: 8, z: 3,
        itemStyle: { color: 'rgba(0,0,0,0)', borderColor: RED, borderWidth: 1.4 }
    },
    {
        type: 'line', xAxisIndex: 1, yAxisIndex: 2, data: zipXY(maSmoothYears, maSmooth), z: 4,
        smooth: 0.5, symbol: 'none', lineStyle: { color: '#111', width: 2.6 }
    },
    {
        type: 'line', xAxisIndex: 1, yAxisIndex: 2, data: zipXY(juneSmoothYears, juneSmooth), z: 4,
        smooth: 0.5, symbol: 'none', lineStyle: { color: RED, width: 2.6 }
    }
];

const seriesC = [].concat(
    iceLines(nhGray, GRAY, 1.3, 3, 4),
    iceLines(nhRed, RED, 1.3, 3, 4),
    [{ type: 'line', xAxisIndex: 3, yAxisIndex: 4, data: byYear(obsStart, nhObs), symbol: 'none',
       lineStyle: { color: '#000', width: 2.8 } }]
);
const seriesD = [].concat(
    iceLines(shGray, GRAY, 1.3, 5, 6),
    iceLines(shRed, RED, 1.3, 5, 6),
    [{ type: 'line', xAxisIndex: 5, yAxisIndex: 6, data: byYear(obsStart, shObs), symbol: 'none',
       lineStyle: { color: '#000', width: 2.8 } }]
);

function label(x, y, text, size, opts) {
    const o = opts || {};
    return {
        type: 'text', x: x, y: y, rotation: o.rot || 0, z: 100, silent: true,
        style: {
            text: text, fontFamily: FONT, fontSize: size, fill: o.color || '#111',
            align: o.align || 'center', verticalAlign: 'middle'
        }
    };
}

const legendBase = {
    itemWidth: 36, itemHeight: 12, textStyle: txt(14), selectedMode: false,
    itemStyle: { color: 'rgba(0,0,0,0)', borderWidth: 0, opacity: 0 }
};

const option = {
    animation: false,
    backgroundColor: '#fff',
    textStyle: { fontFamily: FONT },
    grid: [
        { left: 53, top: 55, width: 410, height: 252, show: true, borderColor: '#111', borderWidth: 2 },
        { left: 68, top: 402, width: 365, height: 215, show: true, borderColor: '#111', borderWidth: 2.5 },
        { left: 546, top: 30, width: 416, height: 293, show: true, borderColor: '#555', borderWidth: 1 },
        { left: 546, top: 385, width: 416, height: 293, show: true, borderColor: '#555', borderWidth: 1 }
    ],
    legend: [
        Object.assign({ data: ['HadSST2', 'HadSST3'], left: 61, top: 65, itemGap: 12 }, legendBase),
        Object.assign({ data: ['ICOADS', 'HadNMAT2'], left: 61, top: 82, itemGap: 15 }, legendBase)
    ],
    xAxis: xAxes,
    yAxis: yAxes,
    series: [].concat(seriesA, seriesB, seriesC, seriesD),
    graphic: [
        label(16, 163, 'Temperature anomaly (°C)', 16, { rot: Math.PI / 2 }),
        label(27, 520, 'SCE anomaly (10\u2076 km\u00b2)', 18, { rot: Math.PI / 2 }),
        label(251, 652, 'Year', 19),
        label(110, 429, 'March-April', 17, { align: 'left' }),
        label(357, 594, 'June', 16, { align: 'left', color: RED }),
        label(747, 16, 'NH40\u201390N September ice extent', 12.5, { color: '#222' }),
        label(518, 178, '(10\u2076 km\u00b2)', 13, { rot: Math.PI / 2, color: '#222' }),
        label(747, 351, 'Year', 12, { color: '#222' }),
        label(748, 371, 'SH40\u201390S September ice extent', 12.5, { color: '#222' }),
        label(516, 532, '(10\u2076 km\u00b2)', 13, { rot: Math.PI / 2, color: '#222' }),
        label(747, 706, 'Year', 12, { color: '#222' })
    ]
};

myChart.setOption(option);
</script>
</body>
</html>
